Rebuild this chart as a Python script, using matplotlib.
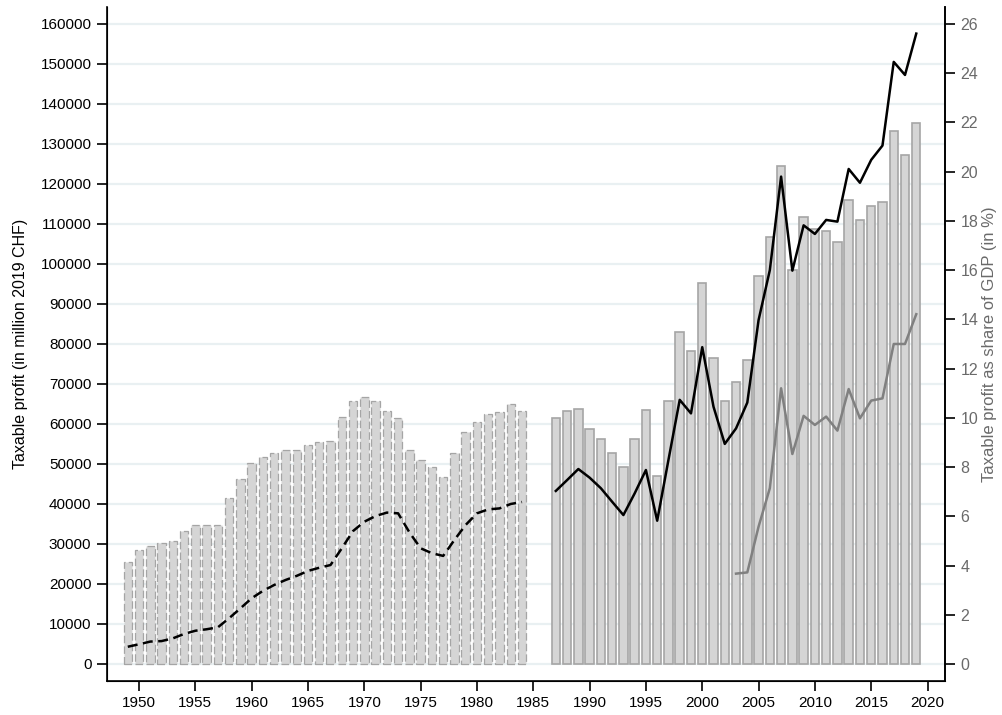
import matplotlib.pyplot as plt
import numpy as np

plt.rcParams['font.family'] = ['Liberation Sans', 'DejaVu Sans']

# bars: taxable profit, million 2019 CHF
years_old = list(range(1949, 1985))
profit_old = [25600, 28400, 29600, 30250, 30700, 33300, 34800, 34750, 34800, 41500,
              46300, 50200, 51750, 52700, 53500, 53400, 54750, 55500, 55750, 61750,
              65700, 66800, 65750, 63200, 61400, 53500, 50900, 49200, 46750, 52750,
              58000, 60500, 62400, 62900, 64900, 63250]
years_new = list(range(1987, 2020))
profit_new = [61400, 63200, 63700, 58700, 56200, 52700, 49200, 56200, 63400, 46900,
              65700, 82900, 78200, 95200, 76400, 65750, 70400, 76100, 96900, 106700,
              124600, 98400, 111700, 108700, 108200, 105400, 116100, 110900, 114400,
              115500, 133300, 127200, 135250]

# lines: share of GDP (in %)
share_old = [0.70, 0.80, 0.91, 0.93, 1.04, 1.22, 1.35, 1.41, 1.49, 1.86, 2.26, 2.67,
             2.97, 3.21, 3.41, 3.58, 3.78, 3.91, 4.02, 4.70, 5.40, 5.78, 6.01, 6.15,
             6.12, 5.35, 4.70, 4.50, 4.39, 5.04, 5.65, 6.12, 6.28, 6.32, 6.50, 6.58]
share_new = [7.03, 7.47, 7.92, 7.57, 7.14, 6.59, 6.05, 6.93, 7.88, 5.82, 8.29, 10.73,
             10.18, 12.87, 10.45, 8.94, 9.57, 10.62, 13.97, 16.0, 19.80, 15.98, 17.82,
             17.47, 18.04, 17.97, 20.11, 19.55, 20.48, 21.06, 24.46, 23.93, 25.61]
years_gray = list(range(2003, 2020))
share_gray = [3.67, 3.72, 5.58, 7.14, 11.20, 8.53, 10.08, 9.71, 10.05, 9.48, 11.17,
              9.98, 10.70, 10.79, 13.0, 13.0, 14.21]

fig = plt.figure(figsize=(10.02, 7.15), dpi=100)
ax = fig.add_axes([0.1065, 0.0476, 0.8366, 0.9422])

ax.bar(years_old, profit_old, width=0.75, color='#d5d5d5', edgecolor='#a5a5a5',
       linewidth=0.9, linestyle=(0, (6, 2.5)), zorder=2)
ax.bar(years_new, profit_new, width=0.75, color='#d5d5d5', edgecolor='#a5a5a5',
       linewidth=1.2, zorder=2)

ax.set_xlim(1947.13, 2021.55)
ax.set_ylim(-4250, 164175)
ax.set_yticks(np.arange(0, 160001, 10000))
ax.set_xticks(np.arange(1950, 2021, 5))
ax.yaxis.grid(True, color='#e9f0f2', linewidth=1.6, zorder=0)
ax.set_axisbelow(True)
ax.spines['top'].set_visible(False)
ax.tick_params(direction='out', length=7, width=1.2, labelsize=11, pad=4)
ax.set_ylabel('Taxable profit (in million 2019 CHF)', fontsize=11.5, labelpad=9)
for s in ['left', 'bottom', 'right']:
    ax.spines[s].set_linewidth(1.2)

ax2 = ax.twinx()
ax2.set_position(ax.get_position())
ax2.plot(years_old, share_old, color='black', linewidth=1.8, dashes=(4, 2.2))
ax2.plot(years_new, share_new, color='black', linewidth=1.8)
ax2.plot(years_gray, share_gray, color='#808080', linewidth=1.8)
ax2.set_ylim(-4250 / 6153.85, 164175 / 6153.85)
ax2.set_yticks(np.arange(0, 27, 2))
ax2.spines['top'].set_visible(False)
ax2.spines['right'].set_linewidth(1.2)
ax2.tick_params(direction='out', length=7, width=1.2, labelsize=11.5, pad=4,
                labelcolor='#6a6a6a')
ax2.set_ylabel('Taxable profit as share of GDP (in %)', fontsize=12, color='#6a6a6a',
               labelpad=3)

fig.savefig('out.png', dpi=100)
